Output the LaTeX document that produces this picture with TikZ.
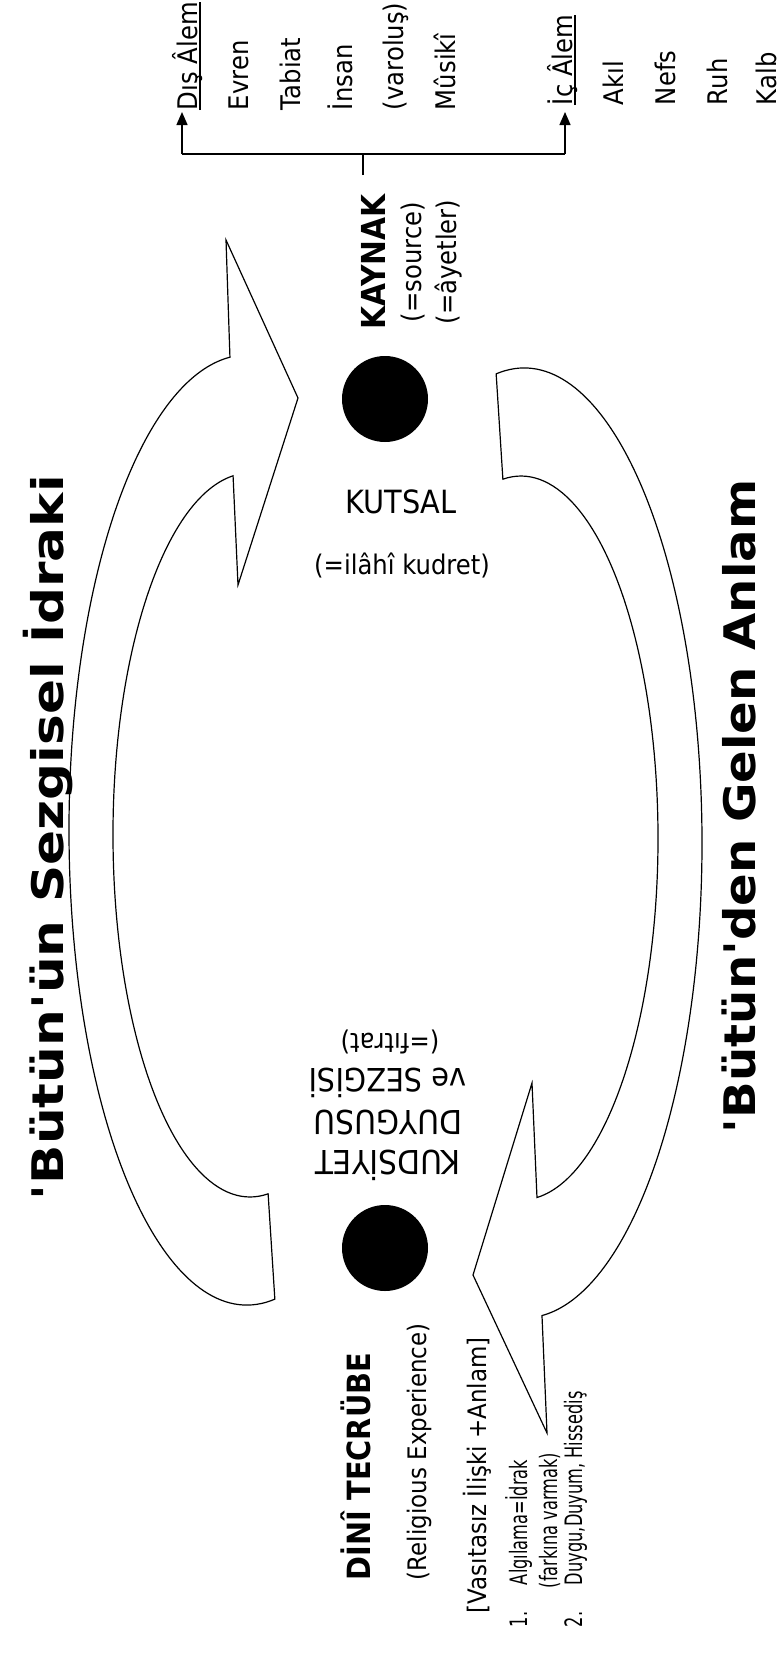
\documentclass[tikz,border=0pt]{standalone}
\usepackage{fontspec}
\usetikzlibrary{arrows.meta,calc}
\setmainfont{DejaVu Sans}[FakeStretch=0.9, Ligatures=TeXOff]
\begin{document}
\begin{tikzpicture}[x=1pt,y=-1pt,
  every node/.style={inner sep=0pt, outer sep=0pt},
  fs/.style={font=\fontsize{#1}{#1}\selectfont},
  fsb/.style={font=\fontsize{#1}{#1}\selectfont\bfseries},
  up/.style={rotate=90, anchor=base west},
  upc/.style={rotate=90, anchor=base},
  flip/.style={rotate=180, anchor=base},
  dot/.style={circle, fill=black, minimum size=86pt},
  bigarrow/.style={draw=black, line width=1.2pt, fill=white, line join=miter},
  conn/.style={line width=1.4pt},
  tip/.style={conn, -{Triangle[length=13pt,width=11pt]}},
]
\useasboundingbox (0,0) rectangle (781,1662);

% curved block arrows
\draw[bigarrow] (247,830) ++(81:178 and 475)
  arc[start angle=81, end angle=264.5, x radius=178, y radius=475]
  -- (226,240) -- (298,398) -- (238,585)
  -- ($(250,835)+(262.9:137 and 362)$)
  arc[start angle=262.9, end angle=82.4, x radius=137, y radius=362]
  -- cycle;
\draw[bigarrow] (524,843) ++(261:178 and 475)
  arc[start angle=261, end angle=444.2, x radius=178, y radius=475]
  -- (547,1433) -- (473,1275) -- (532,1083)
  -- ($(521,838)+(443.3:137 and 362)$)
  arc[start angle=443.3, end angle=262.4, x radius=137, y radius=362]
  -- cycle;

% titles
\node[up, fsb=43.5] (title1) at (63,1200) {\scalebox{1.32}[1]{'Bütün'ün Sezgisel İdraki}};
\node[up, fsb=43.5] (title2) at (755,1133) {\scalebox{1.23}[1]{'Bütün'den Gelen Anlam}};

% the two poles
\node[dot] (src) at (385,399) {};
\node[dot] (exp) at (385,1248) {};

% source side
\node[upc, fsb=33] (kaynak) at (385,262) {KAYNAK};
\node[upc, fs=27] (source) at (421,262) {(=source)};
\node[upc, fs=27] (ayet) at (456,262) {(=âyetler)};
\node[anchor=base, fs=32] (kutsal) at (401,513) {KUTSAL};
\node[anchor=base, fs=27] (kudret) at (402,574) {(=ilâhî kudret)};

% outer / inner worlds
\node[up, fs=27] (dis) at (197,110) {Dış Âlem};
\node[up, fs=27] (evren) at (248,110) {Evren};
\node[up, fs=27] (tabiat) at (300,110) {Tabiat};
\node[up, fs=27] (insan) at (352,110) {İnsan};
\node[up, fs=27] (varolus) at (403,110) {(varoluş)};
\node[up, fs=27] (musiki) at (455,110) {Mûsikî};
\node[up, fs=27] (ic) at (572,105) {İç Âlem};
\node[up, fs=27] (akil) at (623,105) {Akıl};
\node[up, fs=27] (nefs) at (675,105) {Nefs};
\node[up, fs=27] (ruh) at (727,105) {Ruh};
\node[up, fs=27] (kalb) at (776,105) {Kalb};
\draw[line width=1.2pt] ([xshift=3pt]dis.base west) -- ([xshift=3pt]dis.base east);
\draw[line width=1.2pt] ([xshift=3pt]ic.base west) -- ([xshift=3pt]ic.base east);

\coordinate (ktick) at (363,175);
\coordinate (hub) at (363,154);
\coordinate (hubL) at (182,154);
\coordinate (hubR) at (565,154);
\coordinate (disTip) at (182,112);
\coordinate (icTip) at (565,112);
\draw[conn] (ktick) -- (hub);
\draw[conn] (hubL) -- (hubR);
\draw[tip] (hubL) -- (disTip);
\draw[tip] (hubR) -- (icTip);

% experience side
\node[flip, fs=33] (kudsiyet) at (388,1150) {KUDSİYET};
\node[flip, fs=33] (duygusu) at (388,1110) {DUYGUSU};
\node[flip, fs=32] (sezgisi) at (388,1068) {ve SEZGİSİ};
\node[flip, fs=27] (fitrat) at (390,1033) {(=fıtrat)};

\node[up, fsb=32] (dini) at (370,1580) {DİNÎ TECRÜBE};
\node[up, fs=25.5] (relig) at (426.5,1580) {(Religious Experience)};
\node[up, fs=25.5] (vasita) at (486.6,1613) {[Vasıtasız İlişki  +Anlam]};

\node[up, fs=24] (n1) at (527,1627) {\scalebox{0.75}[1]{1.}};
\node[up, fs=24] (algi) at (527,1585) {\scalebox{0.75}[1]{Algılama=İdrak}};
\node[up, fs=24] (fark) at (557,1588) {\scalebox{0.75}[1]{(farkına varmak)}};
\node[up, fs=24] (n2) at (582,1627) {\scalebox{0.75}[1]{2.}};
\node[up, fs=24] (duygu) at (582,1585) {\scalebox{0.75}[1]{Duygu,Duyum, Hissediş}};
\end{tikzpicture}
\end{document}
